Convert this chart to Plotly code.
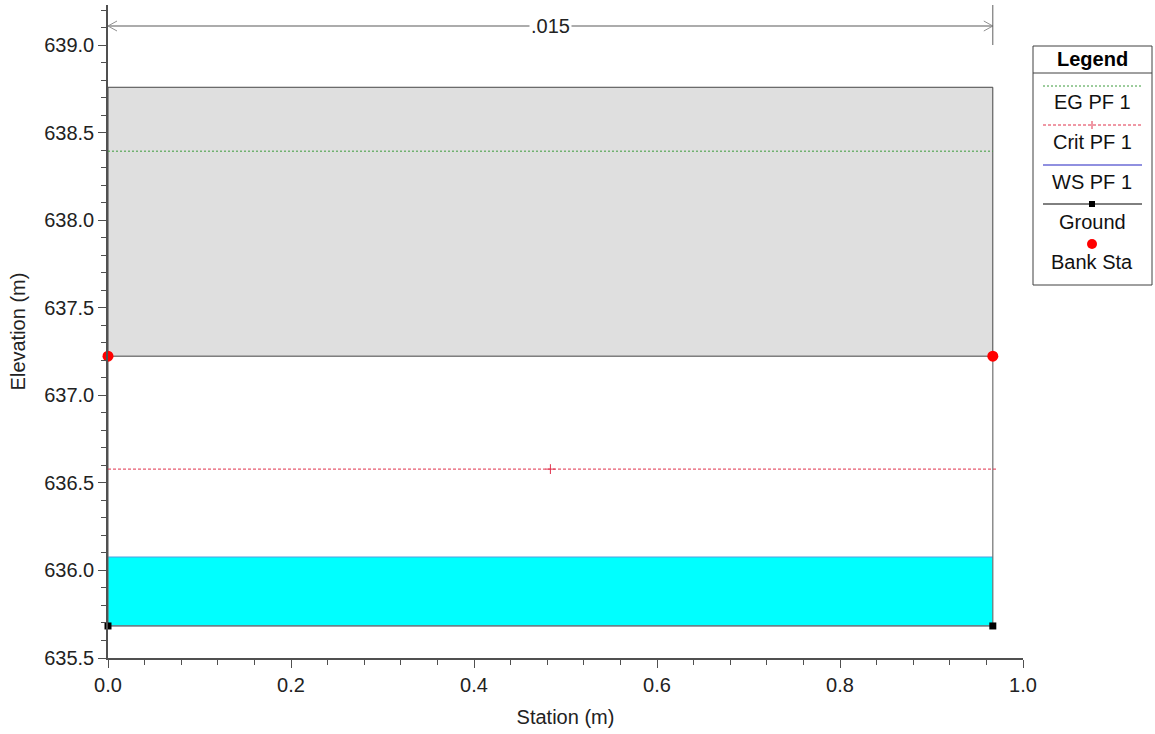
import plotly.graph_objects as go

# ---- data ----
stations = [0.0, 0.967]
ground_elev = [635.683, 635.683]
bank_sta = [0.0, 0.967]
bank_elev = [637.224, 637.224]
deck_low = 637.224
deck_high = 638.76
ws_elev = 636.077
crit_elev = 636.579
eg_elev = 638.395
crit_mid_sta = 0.4835
n_label = ".015"
n_line_elev = 639.11
legend_names = ["EG PF 1", "Crit PF 1", "WS PF 1", "Ground", "Bank Sta"]

FONT = "Liberation Sans, Arial, sans-serif"
FS = 20
L, T, B, R = 108, 5, 76, 0
W, H = 1155, 734
PW, PH = W - L - R, H - T - B
XR = [0.0, 1.0]
YR = [635.5, 639.23]
AX_W = 915


def xp(px):
    return (px - L) / PW


def yp(py):
    return (H - B - py) / PH


fig = go.Figure()

# deck (gray block)
fig.add_trace(go.Scatter(
    x=[stations[0], stations[1], stations[1], stations[0], stations[0]],
    y=[deck_low, deck_low, deck_high, deck_high, deck_low],
    mode="lines", fill="toself", fillcolor="#dfdfdf",
    line=dict(color="#454545", width=1), showlegend=False, hoverinfo="skip"))

# ground base for water fill
fig.add_trace(go.Scatter(x=stations, y=ground_elev, mode="lines",
                         line=dict(color="#6f9fbf", width=1), showlegend=False))
# water surface
fig.add_trace(go.Scatter(x=stations, y=[ws_elev, ws_elev], mode="lines",
                         fill="tonexty", fillcolor="#00ffff",
                         line=dict(color="#4f9fdf", width=1.2), name="WS PF 1",
                         showlegend=False))

# walls (ground verticals)
fig.add_trace(go.Scatter(
    x=[stations[0], stations[0], stations[1], stations[1]],
    y=[bank_elev[0], ground_elev[0], ground_elev[1], bank_elev[1]],
    mode="lines", line=dict(color="#707070", width=1.2),
    showlegend=False, hoverinfo="skip"))
# ground markers
fig.add_trace(go.Scatter(x=stations, y=ground_elev, mode="markers",
                         marker=dict(symbol="square", color="black", size=7),
                         name="Ground", showlegend=False, cliponaxis=False))

# crit
fig.add_trace(go.Scatter(x=[stations[0], crit_mid_sta, stations[1] + 0.004],
                         y=[crit_elev, crit_elev, crit_elev],
                         mode="lines", line=dict(color="#e0304a", width=1, dash="3px,2px"),
                         name="Crit PF 1", showlegend=False))
fig.add_trace(go.Scatter(x=[crit_mid_sta], y=[crit_elev], mode="markers",
                         marker=dict(symbol="cross-thin", color="#e0304a", size=7,
                                     line=dict(color="#e0304a", width=1)),
                         showlegend=False))
# EG
fig.add_trace(go.Scatter(x=stations, y=[eg_elev, eg_elev], mode="lines",
                         line=dict(color="#3a9a3a", width=1, dash="2px,2px"),
                         name="EG PF 1", showlegend=False))
# bank stations
fig.add_trace(go.Scatter(x=bank_sta, y=bank_elev, mode="markers",
                         marker=dict(color="#ff0000", size=11),
                         name="Bank Sta", showlegend=False, cliponaxis=False))

shapes = []
annotations = []

# n-value dimension line
dx = 9 * (XR[1] - XR[0]) / AX_W
dy = 5 * (YR[1] - YR[0]) / PH
shapes.append(dict(type="line", xref="x", yref="y", x0=stations[0], x1=stations[1],
                   y0=n_line_elev, y1=n_line_elev, line=dict(color="#909090", width=1.5)))
shapes.append(dict(type="path", xref="x", yref="y",
                   path=f"M {stations[0]+dx},{n_line_elev+dy} L {stations[0]},{n_line_elev} L {stations[0]+dx},{n_line_elev-dy}",
                   line=dict(color="#909090", width=1)))
shapes.append(dict(type="path", xref="x", yref="y",
                   path=f"M {stations[1]-dx},{n_line_elev+dy} L {stations[1]},{n_line_elev} L {stations[1]-dx},{n_line_elev-dy}",
                   line=dict(color="#909090", width=1)))
shapes.append(dict(type="line", xref="x", yref="paper", x0=stations[1], x1=stations[1],
                   y0=yp(45), y1=1.0, line=dict(color="#606060", width=1)))
annotations.append(dict(x=(stations[0] + stations[1]) / 2, y=n_line_elev, xref="x", yref="y",
                        text=n_label, showarrow=False, bgcolor="white",
                        xanchor="center", yanchor="middle",
                        font=dict(family=FONT, size=FS, color="#222"), borderpad=1))

# custom legend box
lx0, lx1, ly0, ly1 = 1033, 1152, 46, 285
shapes.append(dict(type="rect", xref="paper", yref="paper", x0=xp(lx0), x1=xp(lx1),
                   y0=yp(ly1), y1=yp(ly0), line=dict(color="#404040", width=1),
                   fillcolor="white"))
shapes.append(dict(type="line", xref="paper", yref="paper", x0=xp(lx0), x1=xp(lx1),
                   y0=yp(73), y1=yp(73), line=dict(color="#404040", width=1)))
annotations.append(dict(x=xp(1092), y=yp(59), xref="paper", yref="paper",
                        text="<b>Legend</b>", showarrow=False,
                        xanchor="center", yanchor="middle",
                        font=dict(family=FONT, size=FS, color="black")))
line_y = [86, 125, 165, 204]
line_style = [dict(color="#3a9a3a", width=1, dash="2px,2px"),
              dict(color="#e0304a", width=1, dash="3px,2px"),
              dict(color="#9090e0", width=2),
              dict(color="black", width=1)]
for yy, st in zip(line_y, line_style):
    shapes.append(dict(type="line", xref="paper", yref="paper", x0=xp(1043), x1=xp(1142),
                       y0=yp(yy), y1=yp(yy), line=st))
# crit '+' in legend
shapes.append(dict(type="line", xref="paper", yref="paper", x0=xp(1092), x1=xp(1092),
                   y0=yp(121), y1=yp(129), line=dict(color="#e0304a", width=1)))
# ground square in legend
shapes.append(dict(type="rect", xref="paper", yref="paper", x0=xp(1089), x1=xp(1095),
                   y0=yp(207), y1=yp(201), fillcolor="black", line=dict(color="black", width=0)))
# bank sta dot in legend
shapes.append(dict(type="circle", xref="paper", yref="paper", x0=xp(1087), x1=xp(1097),
                   y0=yp(249), y1=yp(239), fillcolor="#ff0000", line=dict(color="#ff0000", width=0)))
text_y = [102, 142, 182, 222, 262]
for name, yy in zip(legend_names, text_y):
    annotations.append(dict(x=xp(1092), y=yp(yy), xref="paper", yref="paper",
                            text=name, showarrow=False,
                            xanchor="center", yanchor="middle",
                            font=dict(family=FONT, size=FS, color="#111")))

fig.update_layout(
    width=W, height=H,
    margin=dict(l=L, r=R, t=T, b=B, autoexpand=False),
    paper_bgcolor="white", plot_bgcolor="white",
    showlegend=False,
    shapes=shapes, annotations=annotations,
    font=dict(family=FONT, size=FS, color="#222"),
    xaxis=dict(domain=[0, AX_W / PW], range=XR, dtick=0.2, tick0=0, tickformat=".1f",
               showgrid=False, zeroline=False, showline=True, linecolor="#505050", linewidth=1.5,
               ticks="outside", ticklen=8, tickcolor="#505050", tickwidth=1,
               minor=dict(dtick=0.04, ticks="outside", ticklen=5, tickcolor="#505050"),
               title=dict(text="Station (m)", font=dict(family=FONT, size=FS), standoff=15),
               tickfont=dict(family=FONT, size=FS), automargin=False),
    yaxis=dict(range=YR, dtick=0.5, tick0=635.5, tickformat=".1f",
               showgrid=False, zeroline=False, showline=True, linecolor="#505050", linewidth=1.5,
               ticks="outside", ticklen=8, tickcolor="#505050", tickwidth=1,
               minor=dict(dtick=0.1, ticks="outside", ticklen=5, tickcolor="#505050"),
               title=dict(text="Elevation (m)", font=dict(family=FONT, size=FS), standoff=13),
               tickfont=dict(family=FONT, size=FS), automargin=False),
)

fig.write_html("out.html", config={"displayModeBar": False},
               post_script="document.body.style.margin='0';document.body.style.padding='0';")
